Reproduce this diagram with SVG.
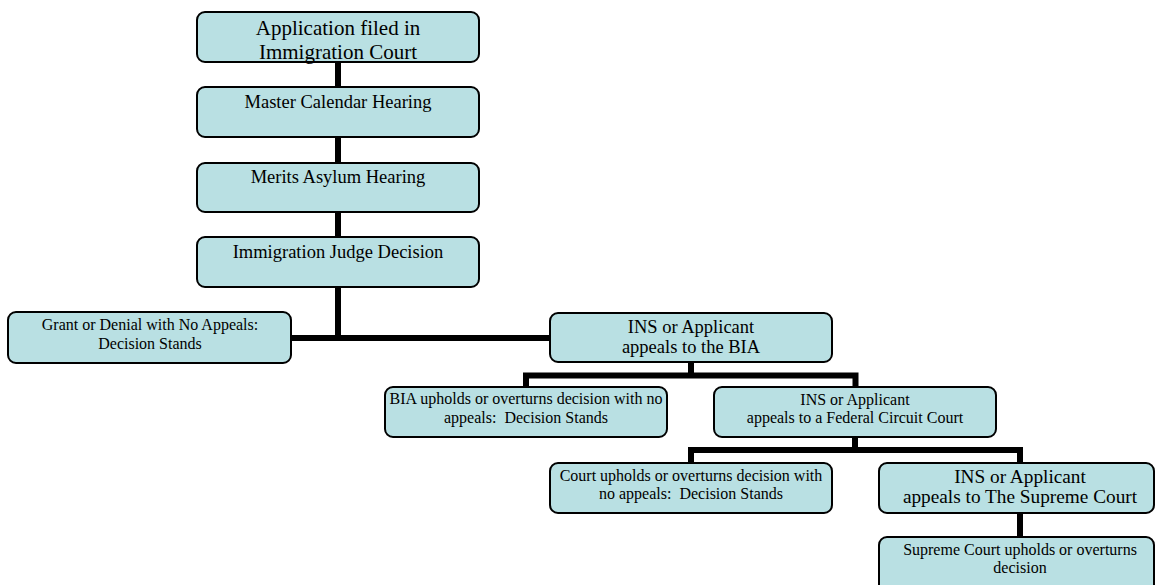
<svg xmlns="http://www.w3.org/2000/svg" width="1155" height="585" viewBox="0 0 1155 585">
<style>
.box{fill:#B9E0E3;stroke:#000;stroke-width:2}
.t{font-family:"Liberation Serif","Times New Roman",serif;fill:#000;text-anchor:middle}
.lg{font-size:21px}
.md{font-size:18.5px}
.sm{font-size:16px}
.xl{font-size:19.3px}
.c{stroke:#000;stroke-width:6;fill:none;stroke-linecap:square}
</style>
<rect width="1155" height="585" fill="#fff"/>
<g id="connectors">
<path class="c" d="M338 62V87M338 137V163M338 212V237M338 287V338"/>
<path class="c" d="M291 338H550"/>
<path class="c" d="M691 362V375.5M526 387V375.5H855.5V387"/>
<path class="c" d="M855 437V450M691 463V450H1020V463"/>
<path class="c" d="M1020 513V537"/>
</g>
<g id="n1"><rect class="box" x="197" y="12" width="282" height="50" rx="8"/>
<text class="t lg" x="338" y="35">Application filed in</text>
<text class="t lg" x="338" y="59">Immigration Court</text></g>
<g id="n2"><rect class="box" x="197" y="87" width="282" height="50" rx="8"/>
<text class="t md" x="338" y="108">Master Calendar Hearing</text></g>
<g id="n3"><rect class="box" x="197" y="163" width="282" height="49" rx="8"/>
<text class="t md" x="338" y="183">Merits Asylum Hearing</text></g>
<g id="n4"><rect class="box" x="197" y="237" width="282" height="50" rx="8"/>
<text class="t md" x="338" y="258">Immigration Judge Decision</text></g>
<g id="n5"><rect class="box" x="8" y="312" width="283" height="51" rx="8"/>
<text class="t sm" x="150" y="330">Grant or Denial with No Appeals:</text>
<text class="t sm" x="150" y="349">Decision Stands</text></g>
<g id="n6"><rect class="box" x="550" y="313" width="282" height="49" rx="8"/>
<text class="t md" x="691" y="333">INS or Applicant</text>
<text class="t md" x="691" y="353">appeals to the BIA</text></g>
<g id="n7"><rect class="box" x="385" y="387" width="282" height="50" rx="8"/>
<text class="t sm" x="526" y="404">BIA upholds or overturns decision with no</text>
<text class="t sm" x="526" y="423">appeals:&#160; Decision Stands</text></g>
<g id="n8"><rect class="box" x="714" y="387" width="282" height="50" rx="8"/>
<text class="t sm" x="855" y="405">INS or Applicant</text>
<text class="t sm" x="855" y="423">appeals to a Federal Circuit Court</text></g>
<g id="n9"><rect class="box" x="550" y="463" width="282" height="50" rx="8"/>
<text class="t sm" x="691" y="481">Court upholds or overturns decision with</text>
<text class="t sm" x="691" y="499">no appeals:&#160; Decision Stands</text></g>
<g id="n10"><rect class="box" x="879" y="463" width="275" height="50" rx="8"/>
<text class="t xl" x="1020" y="483">INS or Applicant</text>
<text class="t xl" x="1020" y="503">appeals to The Supreme Court</text></g>
<g id="n11"><rect class="box" x="879" y="537" width="275" height="62" rx="8"/>
<text class="t sm" x="1020" y="555">Supreme Court upholds or overturns</text>
<text class="t sm" x="1020" y="573">decision</text></g>
</svg>
